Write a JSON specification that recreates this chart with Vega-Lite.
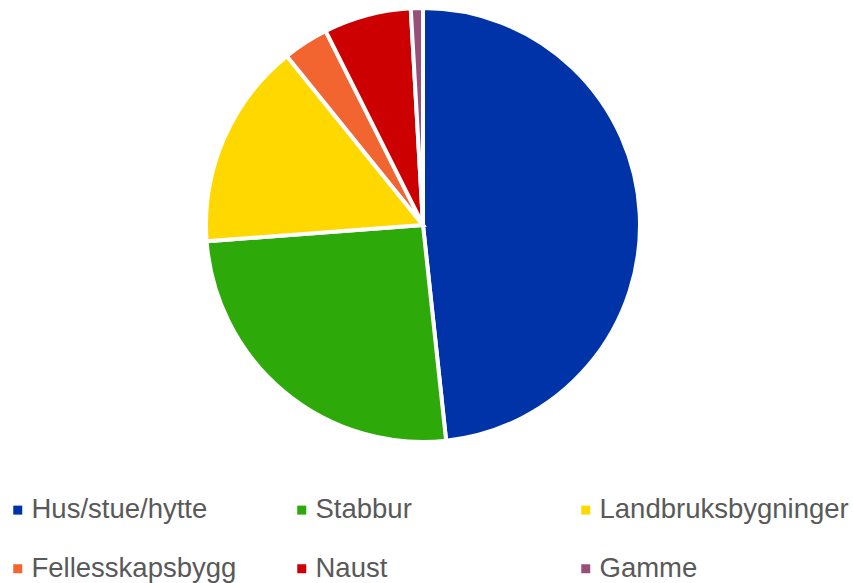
{
  "$schema": "https://vega.github.io/schema/vega-lite/v6.json",
  "width": 846,
  "height": 450,
  "autosize": "none",
  "padding": {"left": 0, "top": 0, "right": 7, "bottom": 133},
  "background": "white",
  "config": {"view": {"stroke": null}},
  "data": {
    "values": [
      {"kategori": "Hus/stue/hytte", "andel": 48.3, "rekke": 1},
      {"kategori": "Stabbur", "andel": 25.5, "rekke": 2},
      {"kategori": "Landbruksbygninger", "andel": 15.4, "rekke": 3},
      {"kategori": "Fellesskapsbygg", "andel": 3.4, "rekke": 4},
      {"kategori": "Naust", "andel": 6.5, "rekke": 5},
      {"kategori": "Gamme", "andel": 0.9, "rekke": 6}
    ]
  },
  "mark": {"type": "arc", "outerRadius": 217, "stroke": "white", "strokeWidth": 4},
  "encoding": {
    "theta": {"field": "andel", "type": "quantitative", "stack": true},
    "order": {"field": "rekke", "type": "quantitative"},
    "color": {
      "field": "kategori",
      "type": "nominal",
      "sort": ["Hus/stue/hytte", "Stabbur", "Landbruksbygninger", "Fellesskapsbygg", "Naust", "Gamme"],
      "scale": {
        "domain": ["Hus/stue/hytte", "Stabbur", "Landbruksbygninger", "Fellesskapsbygg", "Naust", "Gamme"],
        "range": ["#0033A8", "#2EA90A", "#FFD800", "#F26430", "#CC0000", "#985078"]
      },
      "legend": {
        "title": null,
        "orient": "none",
        "legendX": 4,
        "legendY": 496,
        "direction": "horizontal",
        "columns": 3,
        "gridAlign": "all",
        "columnPadding": 7,
        "rowPadding": 30,
        "symbolType": "square",
        "symbolSize": 81,
        "symbolStrokeWidth": 0,
        "labelFont": "Liberation Sans",
        "labelFontSize": 27.5,
        "labelColor": "#595959",
        "labelOffset": 0,
        "labelLimit": 400
      }
    }
  }
}
